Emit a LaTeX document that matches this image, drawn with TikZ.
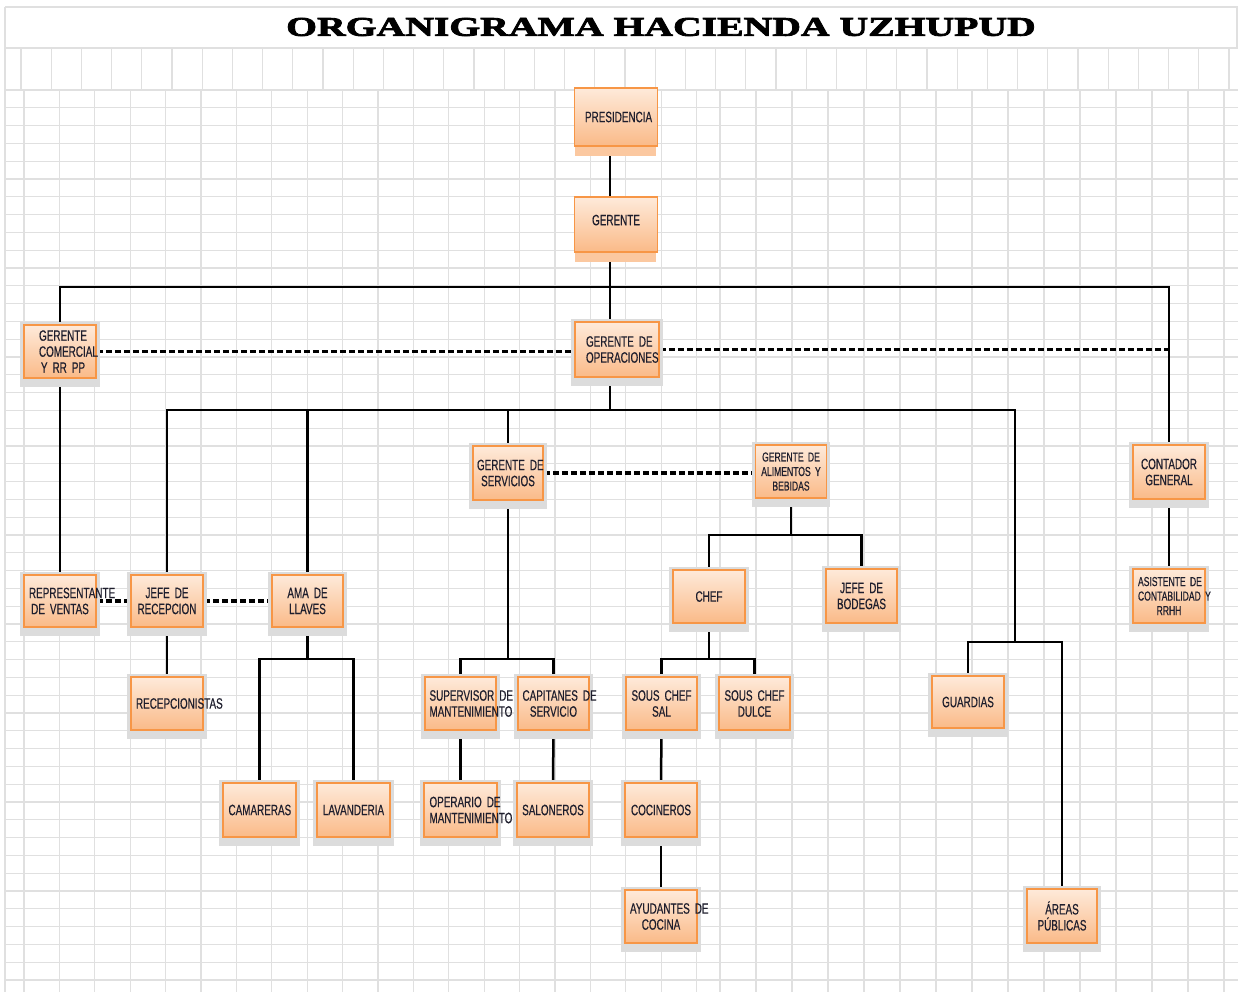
\documentclass[tikz,border=0pt]{standalone}
\usepackage{fontspec}
\usetikzlibrary{calc,backgrounds}
\newfontfamily\boxfont[FakeStretch=0.66,FakeBold=0.5]{Liberation Sans}
\newfontfamily\titlefont[FakeStretch=1.47,BoldFeatures={FakeBold=3}]{Liberation Serif}
\definecolor{gridc}{RGB}{224,224,224}
\definecolor{boxline}{RGB}{247,150,70}
\definecolor{boxtop}{RGB}{254,234,218}
\definecolor{boxbot}{RGB}{250,186,136}
\definecolor{shadowc}{RGB}{220,220,220}
\definecolor{bandc}{RGB}{251,200,160}
\definecolor{txt}{RGB}{30,30,45}
\pgfdeclarelayer{lines}
\pgfdeclarelayer{shadow}
\pgfsetlayers{background,lines,shadow,main}
\hyphenpenalty=10000\relax
\exhyphenpenalty=10000\relax
\begin{document}
\begin{tikzpicture}[x=1pt,y=-1pt,
  gridline/.style={gridc,line width=1.1pt},
  box/.style={rectangle,draw=boxline,line width=1.8pt,top color=boxtop,bottom color=boxbot,
    minimum width=72pt,minimum height=53pt,inner sep=0pt,text width=62pt,align=center,
    text=txt,font=\boxfont\fontsize{15}{16}\selectfont},
  smalltext/.style={font=\boxfont\fontsize{13}{14.5}\selectfont},
  conn/.style={line width=2.5pt,black,line cap=rect,line join=miter},
  dconn/.style={line width=3.4pt,black,dash pattern=on 6pt off 3pt}]
\useasboundingbox (0,0) rectangle (1238,992);
\begin{pgfonlayer}{background}
  \fill[white] (0,0) rectangle (1238,992);
  \draw[gridline] (5,7) -- (1238,7) (5,48) -- (1238,48) (5,90) -- (1238,90);
  \foreach \k in {1,...,50} \draw[gridline] (5,90+17.8*\k) -- (1238,90+17.8*\k);
  \draw[gridline] (5,7) -- (5,992) (1237,7) -- (1237,48);
  \foreach \k in {0,...,40} \draw[gridline] (21+30.2*\k,48) -- (21+30.2*\k,90);
  \foreach \k in {0,...,19} \draw[gridline] (24+35.4*\k,90) -- (24+35.4*\k,992);
  \foreach \k in {0,...,14} \draw[gridline] (720+36*\k,90) -- (720+36*\k,992);
\end{pgfonlayer}

\node[font=\titlefont\bfseries\fontsize{27}{30}\selectfont] (title) at (661,27) {ORGANIGRAMA HACIENDA UZHUPUD};

% nodes
\node[box,minimum width=83pt,minimum height=58pt] (pres) at (616,117) {PRESIDENCIA};
\node[box,minimum width=83pt,minimum height=55pt] (ger) at (616,224.5) {\raisebox{9pt}{GERENTE}};
\node[box,minimum width=84pt,minimum height=55pt] (gop) at (617,349.5) {GERENTE~DE\\OPERACIONES};
\node[box] (gcom) at (60,351.5) {\raisebox{-5pt}{\parbox{62pt}{\centering\hspace*{6pt}GERENTE\\\hspace*{10pt}COMERCIAL\\\hspace*{6pt}Y~RR~PP}}};
\node[box,minimum width=70pt,minimum height=54pt] (gs) at (508,473) {GERENTE~DE\\SERVICIOS};
\node[box,smalltext,minimum width=71pt] (gab) at (791,471.5) {GERENTE~DE\\ALIMENTOS~Y\\BEBIDAS};
\node[box,minimum height=54pt] (cont) at (1169,472) {CONTADOR\\GENERAL};
\node[box,minimum height=52pt] (rep) at (60,601) {REPRESENTANTE\\DE~VENTAS};
\node[box,minimum height=52pt] (jr) at (167,601) {JEFE~DE\\RECEPCION};
\node[box,minimum width=71pt,minimum height=52pt] (ama) at (307.5,601) {AMA~DE\\LLAVES};
\node[box] (chef) at (709,596.5) {CHEF};
\node[box,minimum width=71pt,minimum height=54pt] (bod) at (861.5,596) {JEFE~DE\\BODEGAS};
\node[box,smalltext,minimum height=54pt] (asis) at (1169,596) {ASISTENTE~DE\\CONTABILIDAD~Y\\RRHH};
\node[box] (rec) at (167,703.5) {RECEPCIONISTAS};
\node[box,minimum width=71pt] (sup) at (460.5,703.5) {SUPERVISOR~DE\\MANTENIMIENTO};
\node[box,minimum width=71pt] (cap) at (553.5,703.5) {CAPITANES~DE\\SERVICIO};
\node[box,minimum width=71pt] (scs) at (661.5,703.5) {SOUS~CHEF\\SAL};
\node[box,minimum width=71pt] (scd) at (754.5,703.5) {SOUS~CHEF\\DULCE};
\node[box,minimum height=52pt] (guard) at (968,702) {GUARDIAS};
\node[box,minimum width=73pt,minimum height=54pt] (cam) at (259.5,810) {CAMARERAS};
\node[box,minimum width=73pt,minimum height=54pt] (lav) at (353.5,810) {LAVANDERIA};
\node[box,minimum width=73pt,minimum height=54pt] (ope) at (460.5,810) {OPERARIO~DE\\MANTENIMIENTO};
\node[box,minimum height=54pt] (sal) at (553,810) {SALONEROS};
\node[box,minimum height=54pt] (coc) at (661,810) {COCINEROS};
\node[box] (ayu) at (661,916.5) {AYUDANTES~DE\\COCINA};
\node[box,minimum width=70pt,minimum height=54pt] (areas) at (1062,916) {ÁREAS\\PÚBLICAS};

% shadows
\begin{pgfonlayer}{shadow}
  \foreach \n in {gop,gcom,gs,gab,cont,rep,jr,ama,chef,bod,asis,rec,sup,cap,scs,scd,guard,cam,lav,ope,sal,coc,ayu,areas}
    \fill[shadowc] ($(\n.north west)+(-3,-2)$) rectangle ($(\n.south east)+(3,8)$);
  \foreach \n in {pres,ger}
    \fill[bandc] ($(\n.south west)+(1,0)$) rectangle ($(\n.south east)+(-2,9)$);
\end{pgfonlayer}

% connectors
\coordinate (spine) at (610,0);
\coordinate (b1) at (0,287);
\coordinate (b2) at (0,410);
\coordinate (b3) at (0,659);
\coordinate (b4) at (0,535);
\coordinate (gb) at (1015,642);
\begin{pgfonlayer}{lines}
  \draw[conn] (pres.south -| spine) -- (ger.north -| spine);
  \draw[conn] (ger.south -| spine) -- (gop.north -| spine);
  \draw[conn] (gcom.north) -- (gcom.north |- b1) -- (cont.north |- b1) -- (cont.north);
  \draw[conn] (gop.south -| spine) -- (spine |- b2);
  \draw[conn] (jr.north) -- (jr.north |- b2) -- (gb |- b2) -- (gb);
  \draw[conn] (ama.north) -- (ama.north |- b2);
  \draw[conn] (gs.north) -- (gs.north |- b2);
  \draw[conn] (guard.north) |- (gb) -| (areas.north);
  \draw[conn] (gcom.south) -- (rep.north);
  \draw[conn] (jr.south) -- (rec.north);
  \draw[conn] (ama.south) -- (ama.south |- b3);
  \draw[conn] (cam.north) -- (cam.north |- b3) -- (lav.north |- b3) -- (lav.north);
  \draw[conn] (gs.south) -- (gs.south |- b3);
  \draw[conn] (sup.north) -- (sup.north |- b3) -- (cap.north |- b3) -- (cap.north);
  \draw[conn] (sup.south) -- (ope.north);
  \draw[conn] (cap.south) -- (sal.north);
  \draw[conn] (scs.south) -- (coc.north);
  \draw[conn] (coc.south) -- (ayu.north);
  \draw[conn] (gab.south) -- (gab.south |- b4);
  \draw[conn] (chef.north) -- (chef.north |- b4) -- (bod.north |- b4) -- (bod.north);
  \draw[conn] (chef.south) -- (chef.south |- b3);
  \draw[conn] (scs.north) -- (scs.north |- b3) -- (scd.north |- b3) -- (scd.north);
  \draw[conn] (cont.south) -- (asis.north);
  \draw[dconn] (gcom.east) -- (gcom.east -| gop.west);
  \draw[dconn] (gop.east) -- (gop.east -| cont.north);
  \draw[dconn] (rep.east) -- (jr.west);
  \draw[dconn] (jr.east) -- (ama.west);
  \draw[dconn] (gs.east) -- (gs.east -| gab.west);
\end{pgfonlayer}
\end{tikzpicture}
\end{document}
